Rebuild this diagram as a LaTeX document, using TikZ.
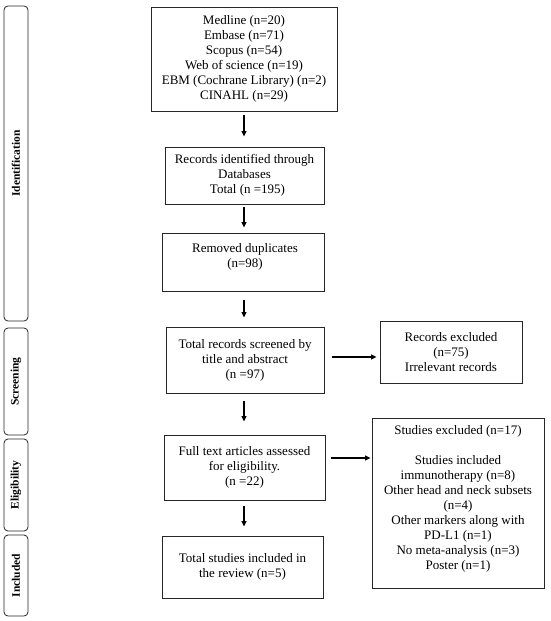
\documentclass[tikz,border=0pt]{standalone}
\usepackage{fontspec}
\setmainfont{Liberation Serif}
\usetikzlibrary{arrows.meta}
\tikzset{
  box/.style={draw=black!85, line width=0.9pt, rectangle, inner sep=2pt, align=center,
              font=\fontsize{13}{15}\selectfont},
  side/.style={draw=black!85, line width=0.8pt, rectangle, rounded corners=4pt, inner sep=0pt,
              font=\fontsize{11.5}{13}\selectfont\bfseries},
  arr/.style={line width=1.3pt, -{Triangle[length=5.5pt,width=5pt]}},
  txt/.style={inner sep=0pt, align=center, font=\fontsize{13}{15}\selectfont}
}
\begin{document}
\begin{tikzpicture}[x=1pt,y=-1pt]
\useasboundingbox (0,0) rectangle (550,621);
% side labels
\node[side, minimum width=315, minimum height=24, rotate=90] (sid) at (16,163.5) {Identification};
\node[side, minimum width=107, minimum height=24, rotate=90] (ssc) at (16,381.5) {Screening};
\node[side, minimum width=92, minimum height=24, rotate=90] (sel) at (16,485) {Eligibility};
\node[side, minimum width=81, minimum height=24, rotate=90] (sin) at (16,575.5) {Included};
% main boxes
\node[box, minimum width=186, minimum height=104] (db) at (244,59)
  {Medline (n=20)\\Embase (n=71)\\Scopus (n=54)\\Web of science (n=19)\\EBM (Cochrane Library) (n=2)\\CINAHL (n=29)};
\node[box, minimum width=159, minimum height=57] (rec) at (244.5,175.5)
  {Records identified through\\Databases\\\hspace*{6pt}Total (n =195)};
\node[box, minimum width=162, minimum height=58] (dup) at (243,262) {};
\node[txt] (duptxt) at (245,257) {Removed duplicates\\(n=98)};
\node[box, minimum width=158, minimum height=66] (scr) at (245,360)
  {Total records screened by\\title and abstract\\(n =97)};
\node[box, minimum width=161, minimum height=65] (full) at (244.5,467.5)
  {Full text articles assessed\\for eligibility.\\(n =22)};
\node[box, minimum width=161, minimum height=62] (incl) at (242.5,567)
  {Total studies included in\\the review (n=5)};
\node[box, minimum width=142, minimum height=62] (exa) at (451,352)
  {Records excluded\\(n=75)\\Irrelevant records};
\node[box, minimum width=172, minimum height=170] (exb) at (458,503) {};
\node[txt] (exbtxt) at (458,498.5)
  {Studies excluded (n=17)\\[15pt]Studies included\\immunotherapy (n=8)\\Other head and neck subsets\\(n=4)\\Other markers along with\\PD-L1 (n=1)\\No meta-analysis (n=3)\\Poster (n=1)};
% connectors
\coordinate (cx) at (244,0);
\coordinate (ya) at (0,357);
\coordinate (yb) at (0,458);
\draw[arr, shorten <=4pt, shorten >=10pt] (db.south -| cx) -- (rec.north -| cx);
\draw[arr, shorten <=3pt, shorten >=5pt] (rec.south -| cx) -- (dup.north -| cx);
\draw[arr, shorten <=9pt, shorten >=9pt] (dup.south -| cx) -- (scr.north -| cx);
\draw[arr, shorten <=8pt, shorten >=13pt] (scr.south -| cx) -- (full.north -| cx);
\draw[arr, shorten <=6pt, shorten >=9pt] (full.south -| cx) -- (incl.north -| cx);
\draw[arr, shorten <=8pt, shorten >=3pt] (scr.east |- ya) -- (exa.west |- ya);
\draw[arr, shorten <=6pt, shorten >=1pt] (full.east |- yb) -- (exb.west |- yb);
\end{tikzpicture}
\end{document}
